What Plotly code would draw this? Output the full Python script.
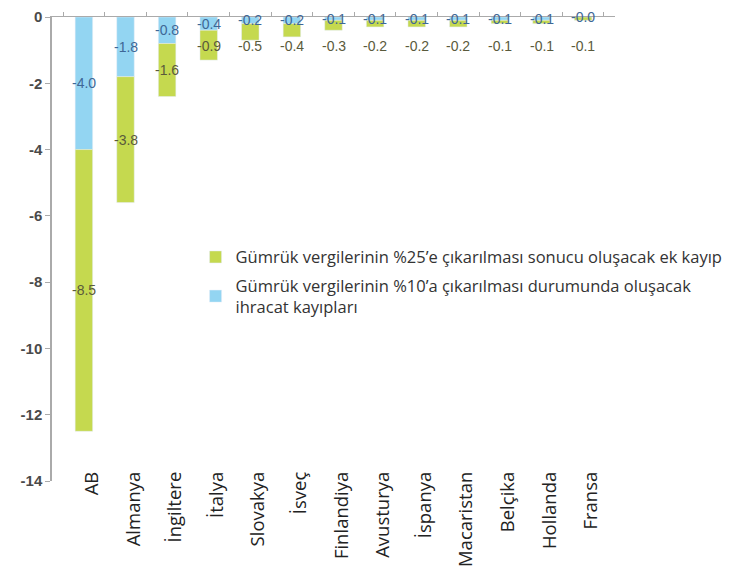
import plotly.graph_objects as go

categories = ["AB", "Almanya", "İngiltere", "İtalya", "Slovakya", "İsveç", "Finlandiya",
              "Avusturya", "İspanya", "Macaristan", "Belçika", "Hollanda", "Fransa"]
loss_10 = [-4.0, -1.8, -0.8, -0.4, -0.2, -0.2, -0.1, -0.1, -0.1, -0.1, -0.1, -0.1, -0.0]
loss_25_extra = [-8.5, -3.8, -1.6, -0.9, -0.5, -0.4, -0.3, -0.2, -0.2, -0.2, -0.1, -0.1, -0.1]
y_ticks = [0, -2, -4, -6, -8, -10, -12, -14]

name_10 = "Gümrük vergilerinin %10’a çıkarılması durumunda oluşacak<br>ihracat kayıpları"
name_25 = "Gümrük vergilerinin %25’e çıkarılması sonucu oluşacak ek kayıp"

BLUE = "#93d5f2"
GREEN = "#c5d94f"

fig = go.Figure()
fig.add_trace(go.Bar(x=categories, y=loss_10, name=name_10, marker_color=BLUE,
                     legendrank=2, legendgroup="g10", xaxis="x"))
fig.add_trace(go.Bar(x=categories, y=loss_25_extra, name=name_25, marker_color=GREEN,
                     legendrank=1, legendgroup="g25", xaxis="x"))

annotations = []
for c, b, g in zip(categories, loss_10, loss_25_extra):
    annotations.append(dict(x=c, y=b / 2, text=f"{b:.1f}" if b != 0 else "-0.0",
                            showarrow=False,
                            font=dict(family="Liberation Sans", size=14, color="#3e6796")))
    mid = b + g / 2
    annotations.append(dict(x=c, y=min(mid, -0.88), text=f"{g:.1f}",
                            showarrow=False,
                            font=dict(family="Liberation Sans", size=14, color="#5a5a3c")))

fig.update_layout(
    width=745, height=586,
    margin=dict(l=52, r=130, t=17, b=105, autoexpand=False),
    paper_bgcolor="white", plot_bgcolor="white",
    barmode="relative", bargap=0.58,
    showlegend=True,
    legend=dict(x=0.255, y=0.52, xanchor="left", yanchor="top",
                font=dict(family="Open Sans", size=16.5, color="#333"),
                bgcolor="rgba(0,0,0,0)", tracegroupgap=4, itemwidth=30),
    xaxis=dict(type="category", tickangle=-90, showline=False, ticks="",
               tickfont=dict(family="Open Sans", size=18.5, color="#222"),
               ticklabelshift=8, ticklabelstandoff=-14,
               showgrid=False, zeroline=False),
    xaxis2=dict(type="category", overlaying="x", matches="x", side="top", anchor="y",
                showline=True, linecolor="#aaaaaa", linewidth=1, ticks="outside",
                tickson="boundaries", ticklen=4, tickcolor="#aaaaaa",
                showticklabels=False, showgrid=False, zeroline=False,
                categoryarray=categories),
    yaxis=dict(range=[-14, 0], tickvals=y_ticks, ticktext=[str(v) for v in y_ticks],
               showline=True, linecolor="#aaaaaa", linewidth=1.5, ticks="outside",
               ticklen=5, tickcolor="#aaaaaa", showgrid=False, zeroline=False,
               tickfont=dict(family="Liberation Sans", size=15, color="#4a4a4a",
                             weight="bold")),
    annotations=annotations,
)
fig.add_trace(go.Scatter(x=categories, y=[None] * len(categories), xaxis="x2",
                         showlegend=False, hoverinfo="skip"))

fig.write_html("out.html")
